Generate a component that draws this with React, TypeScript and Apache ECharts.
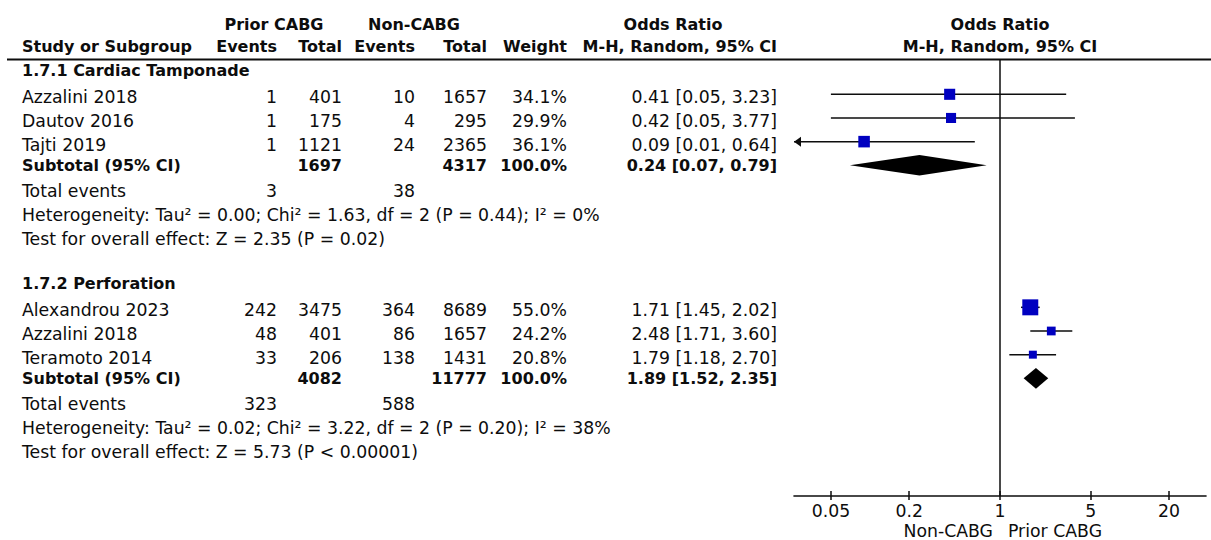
import React, { useEffect, useRef } from 'react';
import * as echarts from 'echarts';

// ---- Data ----
const subgroupTitles = ['1.7.1 Cardiac Tamponade', '1.7.2 Perforation'];

const group1Studies = ['Azzalini 2018', 'Dautov 2016', 'Tajti 2019'];
const group1PriorEvents = [1, 1, 1];
const group1PriorTotal = [401, 175, 1121];
const group1NonEvents = [10, 4, 24];
const group1NonTotal = [1657, 295, 2365];
const group1Weights = [34.1, 29.9, 36.1];
const group1OR = [0.41, 0.42, 0.09];
const group1Lower = [0.05, 0.05, 0.01];
const group1Upper = [3.23, 3.77, 0.64];

const group2Studies = ['Alexandrou 2023', 'Azzalini 2018', 'Teramoto 2014'];
const group2PriorEvents = [242, 48, 33];
const group2PriorTotal = [3475, 401, 206];
const group2NonEvents = [364, 86, 138];
const group2NonTotal = [8689, 1657, 1431];
const group2Weights = [55.0, 24.2, 20.8];
const group2OR = [1.71, 2.48, 1.79];
const group2Lower = [1.45, 1.71, 1.18];
const group2Upper = [2.02, 3.6, 2.7];

const subtotalPriorTotal = [1697, 4082];
const subtotalNonTotal = [4317, 11777];
const subtotalWeight = [100.0, 100.0];
const subtotalOR = [0.24, 1.89];
const subtotalLower = [0.07, 1.52];
const subtotalUpper = [0.79, 2.35];
const totalPriorEvents = [3, 323];
const totalNonEvents = [38, 588];
const heterogeneityTexts = [
  'Heterogeneity: Tau\u00b2 = 0.00; Chi\u00b2 = 1.63, df = 2 (P = 0.44); I\u00b2 = 0%',
  'Heterogeneity: Tau\u00b2 = 0.02; Chi\u00b2 = 3.22, df = 2 (P = 0.20); I\u00b2 = 38%',
];
const overallEffectTexts = [
  'Test for overall effect: Z = 2.35 (P = 0.02)',
  'Test for overall effect: Z = 5.73 (P < 0.00001)',
];

const tickValues = [0.05, 0.2, 1, 5, 20];

// ---- Layout ----
const W = 1211;
const H = 540;
const GRID_TOP = 59;
const AXIS_Y = 496;
const PLOT_LEFT = 794;
const PLOT_RIGHT = 1206;
const ROW0_Y = 94.3;
const ROW_PITCH = 23.67;
const Y_MIN = (GRID_TOP - ROW0_Y) / ROW_PITCH;
const Y_MAX = (AXIS_Y - ROW0_Y) / ROW_PITCH;
const X_MIN = -1.585;
const X_MAX = 1.585;
const rowY = (r: number) => ROW0_Y + r * ROW_PITCH;

const FONT = '"DejaVu Sans", "Liberation Sans", sans-serif';
const REG = 17.3;
const BOLD = 16;
const INK = '#0d0d0d';
const SQUARE_BLUE = '#0000c0';

const COL_NAME = 22;
const COL_PRIOR_EV = 277;
const COL_PRIOR_TOT = 342;
const COL_NON_EV = 415;
const COL_NON_TOT = 487;
const COL_WEIGHT = 567;
const COL_OR = 777;

const groups = [
  {
    start: 0,
    studies: group1Studies, pe: group1PriorEvents, pt: group1PriorTotal,
    ne: group1NonEvents, nt: group1NonTotal, w: group1Weights,
    or: group1OR, lo: group1Lower, hi: group1Upper,
  },
  {
    start: 9,
    studies: group2Studies, pe: group2PriorEvents, pt: group2PriorTotal,
    ne: group2NonEvents, nt: group2NonTotal, w: group2Weights,
    or: group2OR, lo: group2Lower, hi: group2Upper,
  },
];

const fmtCI = (o: number, l: number, h: number) =>
  `${o.toFixed(2)} [${l.toFixed(2)}, ${h.toFixed(2)}]`;

function txt(x: number, y: number, s: string, align: string, bold = false) {
  return {
    type: 'text',
    silent: true,
    style: {
      text: s,
      x,
      y,
      fill: INK,
      font: `${bold ? 'bold ' : ''}${bold ? BOLD : REG}px ${FONT}`,
      align,
      verticalAlign: 'middle',
      textAlign: align,
      textVerticalAlign: 'middle',
    },
  };
}

function buildTableGraphics() {
  const els: any[] = [];
  // Column headers
  els.push(txt(274, 24, 'Prior CABG', 'center', true));
  els.push(txt(414, 24, 'Non-CABG', 'center', true));
  els.push(txt(673, 24, 'Odds Ratio', 'center', true));
  els.push(txt(1000, 24, 'Odds Ratio', 'center', true));
  els.push(txt(COL_NAME, 46, 'Study or Subgroup', 'left', true));
  els.push(txt(COL_PRIOR_EV, 46, 'Events', 'right', true));
  els.push(txt(COL_PRIOR_TOT, 46, 'Total', 'right', true));
  els.push(txt(COL_NON_EV, 46, 'Events', 'right', true));
  els.push(txt(COL_NON_TOT, 46, 'Total', 'right', true));
  els.push(txt(COL_WEIGHT, 46, 'Weight', 'right', true));
  els.push(txt(COL_OR, 46, 'M-H, Random, 95% CI', 'right', true));
  els.push(txt(1000, 46, 'M-H, Random, 95% CI', 'center', true));
  els.push({
    type: 'line',
    silent: true,
    shape: { x1: 7, y1: GRID_TOP + 0.5, x2: W, y2: GRID_TOP + 0.5 },
    style: { stroke: INK, lineWidth: 2.2 },
  });

  groups.forEach((g, gi) => {
    els.push(txt(COL_NAME, rowY(g.start - 1), subgroupTitles[gi], 'left', true));
    g.studies.forEach((name, i) => {
      const y = rowY(g.start + i) + 3;
      els.push(txt(COL_NAME, y, name, 'left'));
      els.push(txt(COL_PRIOR_EV, y, String(g.pe[i]), 'right'));
      els.push(txt(COL_PRIOR_TOT, y, String(g.pt[i]), 'right'));
      els.push(txt(COL_NON_EV, y, String(g.ne[i]), 'right'));
      els.push(txt(COL_NON_TOT, y, String(g.nt[i]), 'right'));
      els.push(txt(COL_WEIGHT, y, `${g.w[i].toFixed(1)}%`, 'right'));
      els.push(txt(COL_OR, y, fmtCI(g.or[i], g.lo[i], g.hi[i]), 'right'));
    });
    const sr = g.start + g.studies.length;
    const sy = rowY(sr);
    els.push(txt(COL_NAME, sy, 'Subtotal (95% CI)', 'left', true));
    els.push(txt(COL_PRIOR_TOT, sy, String(subtotalPriorTotal[gi]), 'right', true));
    els.push(txt(COL_NON_TOT, sy, String(subtotalNonTotal[gi]), 'right', true));
    els.push(txt(COL_WEIGHT, sy, `${subtotalWeight[gi].toFixed(1)}%`, 'right', true));
    els.push(txt(COL_OR, sy, fmtCI(subtotalOR[gi], subtotalLower[gi], subtotalUpper[gi]), 'right', true));
    const ty = rowY(sr + 1) + 2;
    els.push(txt(COL_NAME, ty, 'Total events', 'left'));
    els.push(txt(COL_PRIOR_EV, ty, String(totalPriorEvents[gi]), 'right'));
    els.push(txt(COL_NON_EV, ty, String(totalNonEvents[gi]), 'right'));
    els.push(txt(COL_NAME, rowY(sr + 2) + 2.3, heterogeneityTexts[gi], 'left'));
    els.push(txt(COL_NAME, rowY(sr + 3) + 2.6, overallEffectTexts[gi], 'left'));
  });

  // Favours labels under the axis
  els.push(txt(993, 531, 'Non-CABG', 'right'));
  els.push(txt(1008, 531, 'Prior CABG', 'left'));
  return els;
}

export default function App() {
  const ref = useRef<HTMLDivElement>(null);

  useEffect(() => {
    if (!ref.current) return;
    const chart = echarts.init(ref.current, undefined, { renderer: 'svg' });

    const ciData: number[][] = [];
    const squareData: number[][] = [];
    groups.forEach((g) => {
      g.studies.forEach((_, i) => {
        const r = g.start + i;
        ciData.push([Math.log10(g.lo[i]), Math.log10(g.hi[i]), r]);
        squareData.push([Math.log10(g.or[i]), r, g.w[i]]);
      });
    });
    const diamondData = groups.map((g, gi) => [
      Math.log10(subtotalLower[gi]),
      Math.log10(subtotalOR[gi]),
      Math.log10(subtotalUpper[gi]),
      g.start + g.studies.length,
    ]);

    const tickLogs = tickValues.map((t) => Math.log10(t));
    const tickLabel = (v: number) => {
      const idx = tickLogs.findIndex((t) => Math.abs(t - v) < 1e-6);
      return idx >= 0 ? String(tickValues[idx]) : '';
    };

    chart.setOption({
      animation: false,
      backgroundColor: '#fff',
      grid: {
        left: PLOT_LEFT,
        right: W - PLOT_RIGHT,
        top: GRID_TOP,
        bottom: H - AXIS_Y,
        containLabel: false,
      },
      xAxis: [
        {
          type: 'value',
          min: X_MIN,
          max: X_MAX,
          position: 'bottom',
          splitLine: { show: false },
          axisLine: { show: true, onZero: false, lineStyle: { color: INK, width: 1.6 } },
          axisTick: {
            show: true,
            inside: true,
            length: 5,
            customValues: tickLogs,
            lineStyle: { color: INK, width: 1.5 },
          },
          axisLabel: {
            show: true,
            customValues: tickLogs,
            formatter: tickLabel,
            color: INK,
            fontSize: REG,
            fontFamily: FONT,
            margin: 6,
          },
        },
        {
          type: 'value',
          min: X_MIN,
          max: X_MAX,
          position: 'bottom',
          splitLine: { show: false },
          axisLine: { show: false, onZero: false },
          axisTick: {
            show: true,
            inside: false,
            length: 4,
            customValues: tickLogs,
            lineStyle: { color: INK, width: 1.5 },
          },
          axisLabel: { show: false },
        },
      ],
      yAxis: {
        type: 'value',
        inverse: true,
        min: Y_MIN,
        max: Y_MAX,
        show: false,
      },
      graphic: { elements: buildTableGraphics() },
      series: [
        {
          type: 'custom',
          name: 'ci',
          xAxisIndex: 0,
          data: ciData,
          encode: { x: [0, 1], y: 2 },
          z: 2,
          renderItem: (_params: any, api: any) => {
            const lo = api.value(0);
            const hi = api.value(1);
            const r = api.value(2);
            const p1 = api.coord([Math.max(lo, X_MIN), r]);
            const p2 = api.coord([Math.min(hi, X_MAX), r]);
            const children: any[] = [
              {
                type: 'line',
                shape: { x1: p1[0], y1: p1[1], x2: p2[0], y2: p2[1] },
                style: { stroke: INK, lineWidth: 1.5 },
              },
            ];
            if (lo < X_MIN) {
              children.push({
                type: 'polygon',
                shape: { points: [[p1[0], p1[1]], [p1[0] + 7, p1[1] - 5], [p1[0] + 7, p1[1] + 5]] },
                style: { fill: INK },
              });
            }
            if (hi > X_MAX) {
              children.push({
                type: 'polygon',
                shape: { points: [[p2[0], p2[1]], [p2[0] - 7, p2[1] - 5], [p2[0] - 7, p2[1] + 5]] },
                style: { fill: INK },
              });
            }
            return { type: 'group', children };
          },
        },
        {
          type: 'scatter',
          name: 'estimate',
          xAxisIndex: 0,
          data: squareData,
          symbol: 'rect',
          symbolSize: (v: number[]) => 3.1 + 0.234 * v[2],
          itemStyle: { color: SQUARE_BLUE, opacity: 1 },
          z: 3,
          markLine: {
            silent: true,
            symbol: ['none', 'none'],
            label: { show: false },
            lineStyle: { color: INK, width: 1.5, type: 'solid' },
            data: [{ xAxis: 0 }],
          },
        },
        {
          type: 'custom',
          name: 'subtotal',
          xAxisIndex: 0,
          data: diamondData,
          encode: { x: [0, 1, 2], y: 3 },
          z: 4,
          renderItem: (_params: any, api: any) => {
            const r = api.value(3);
            const pl = api.coord([api.value(0), r]);
            const pc = api.coord([api.value(1), r]);
            const pr = api.coord([api.value(2), r]);
            const half = 10.3;
            return {
              type: 'polygon',
              shape: {
                points: [
                  [pl[0], pl[1]],
                  [pc[0], pc[1] - half],
                  [pr[0], pr[1]],
                  [pc[0], pc[1] + half],
                ],
              },
              style: { fill: '#000' },
            };
          },
        },
      ],
    });

    return () => chart.dispose();
  }, []);

  return (
    <div
      ref={ref}
      style={{ position: 'fixed', left: 0, top: 0, width: W, height: H, background: '#fff' }}
    />
  );
}
